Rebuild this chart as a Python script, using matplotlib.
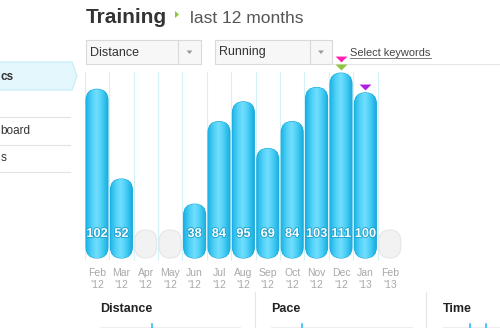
import matplotlib.pyplot as plt
import matplotlib.patheffects as pe
from matplotlib.patches import FancyBboxPatch, Polygon, Rectangle
from matplotlib.colors import LinearSegmentedColormap
import numpy as np

# %% data
months = ['Feb', 'Mar', 'Apr', 'May', 'Jun', 'Jul', 'Aug', 'Sep', 'Oct', 'Nov', 'Dec', 'Jan', 'Feb']
years = ["'12"] * 11 + ["'13"] * 2
values = [102, 52, None, None, 38, 84, 95, 69, 84, 103, 111, 100, None]
# little triangles above bars: (slot, colour, level)
marks = [(10, '#8cc63f', 1), (10, '#ff22b0', 2), (11, '#b01ee6', 1)]

plt.rcParams['font.family'] = ['Liberation Sans', 'DejaVu Sans']

fig = plt.figure(figsize=(5, 3.28), dpi=100)
fig.patch.set_facecolor('white')

# full-figure axes in pixel coords for the page furniture
bg = fig.add_axes([0, 0, 1, 1])
bg.set_xlim(0, 500)
bg.set_ylim(328, 0)
bg.axis('off')

# %% chart axes
px_x = 24.4     # px per slot
px_y = 1.795    # px per value unit
base = 8        # visual baseline of the pills
ax_left, ax_right, ax_top, ax_bot = 84.8, 84.8 + 13 * px_x, 72, 262
ax = fig.add_axes([ax_left / 500, 1 - ax_bot / 328,
                   (ax_right - ax_left) / 500, (ax_bot - ax_top) / 328])
ax.patch.set_alpha(0)
ylo = base - (ax_bot - 258) / px_y
yhi = base + (258 - ax_top) / px_y

asp = px_x / px_y
bw = 0.9
cm = LinearSegmentedColormap.from_list('pill', ['#1cb3e4', '#4fd0f6', '#72defd', '#45ccf4', '#1aaedf'])
grad = np.linspace(0, 1, 64).reshape(1, -1)

ax.vlines(np.arange(-0.5, 13), base - 1, yhi, color='#d4f1f8', lw=0.8, zorder=0)

for i, v in enumerate(values):
    if v is None:
        p = FancyBboxPatch((i - bw / 2, base), bw, 15.6,
                           boxstyle='round,pad=0,rounding_size=0.45',
                           mutation_aspect=asp, fc='#f2f2f2', ec='#e6e6e6', lw=0.8, zorder=2)
        ax.add_patch(p)
        continue
    p = FancyBboxPatch((i - bw / 2, base), bw, v - base,
                       boxstyle='round,pad=0,rounding_size=0.45',
                       mutation_aspect=asp, fc='#38c6f2', ec='#1aa9dc', lw=0.8, zorder=2)
    ax.add_patch(p)
    im = ax.imshow(grad, extent=(i - bw / 2, i + bw / 2, base, v), cmap=cm,
                   aspect='auto', zorder=2.5, interpolation='bilinear')
    im.set_clip_path(p)
    ax.text(i, 21.4, str(v), ha='center', va='center', color='white', fontsize=9.2,
            fontweight='bold', zorder=4,
            path_effects=[pe.withStroke(linewidth=1.2, foreground='#189fcc')])

tri = [(-1, 0.5), (1, 0.5), (0, -0.5)]
for i, c, lev in marks:
    ax.plot(i, values[i] + 3.5 + (lev - 1) * 4.5, marker=tri, ms=8.5,
            color=c, mec='none', clip_on=False, zorder=5)

ax.set_xlim(-0.5, 12.5)
ax.set_ylim(ylo, yhi)
ax.set_xticks(range(13))
ax.set_xticklabels([m + '\n' + y for m, y in zip(months, years)],
                   fontsize=7.5, color='#a8a8a8', linespacing=1.2)
ax.tick_params(axis='x', length=0, pad=4.5)
ax.set_yticks([])
for s in ax.spines.values():
    s.set_visible(False)

# %% header
bg.text(86, 23, 'Training', fontsize=15, fontweight='bold', color='#333333', va='baseline')
bg.add_patch(Polygon([(175, 11), (179, 14.5), (175, 18)], closed=True, fc='#8cc63f', ec='none'))
bg.text(190, 23, 'last 12 months', fontsize=12.5, color='#555555', va='baseline')

for x0, x1, xd, label in [(86, 201, 178, 'Distance'), (215, 332, 310, 'Running')]:
    bg.add_patch(Rectangle((x0, 40), x1 - x0, 24, fc='#f7f7f7', ec='#d9d9d9', lw=0.8))
    bg.plot([xd, xd], [40, 64], color='#d9d9d9', lw=0.8)
    xa = (xd + x1) / 2
    bg.add_patch(Polygon([(xa - 3, 50.5), (xa + 3, 50.5), (xa, 54)], closed=True, fc='#999999', ec='none'))
    bg.text(x0 + 4, 52.5, label, fontsize=9, color='#333333', va='center')

bg.text(350, 53, 'Select keywords', fontsize=7.9, color='#444444', va='center')
bg.plot([350, 431], [57.5, 57.5], color='#666666', lw=0.6)
bg.plot([332, 500], [64, 64], color='#e5e5e5', lw=0.8)

# %% sidebar (only the visible ends of the menu entries)
bg.add_patch(Polygon([(-2, 62), (72, 62), (77, 76), (72, 90), (-2, 90)], closed=True,
                     fc='#e3f7fd', ec='#c3edf9', lw=0.8))
bg.text(0.5, 76.5, 'cs', fontsize=8.5, fontweight='bold', color='#333333', va='center')
for yl in [117, 145, 172]:
    bg.plot([0, 70], [yl, yl], color='#e2e2e2', lw=0.8)
bg.text(0.5, 131, 'board', fontsize=8.5, color='#333333', va='center')
bg.text(0.5, 158, 's', fontsize=8.5, color='#333333', va='center')

# %% bottom panels
for xl in [255, 426]:
    bg.plot([xl, xl], [292, 328], color='#e5e5e5', lw=0.8)
for xt, t in [(100, 'Distance'), (271, 'Pace'), (443, 'Time')]:
    bg.text(xt, 309, t, fontsize=9, fontweight='bold', color='#222222', va='center')
for x0, x1 in [(100, 240), (271, 412), (443, 500)]:
    bg.plot([x0, x1], [326.5, 326.5], color='#eeeeee', lw=0.8)
for xc in [152, 302, 470, 486]:
    bg.plot([xc, xc], [324, 328], color='#2bc0ee', lw=1.2)

fig.savefig('out.png', dpi=100)
